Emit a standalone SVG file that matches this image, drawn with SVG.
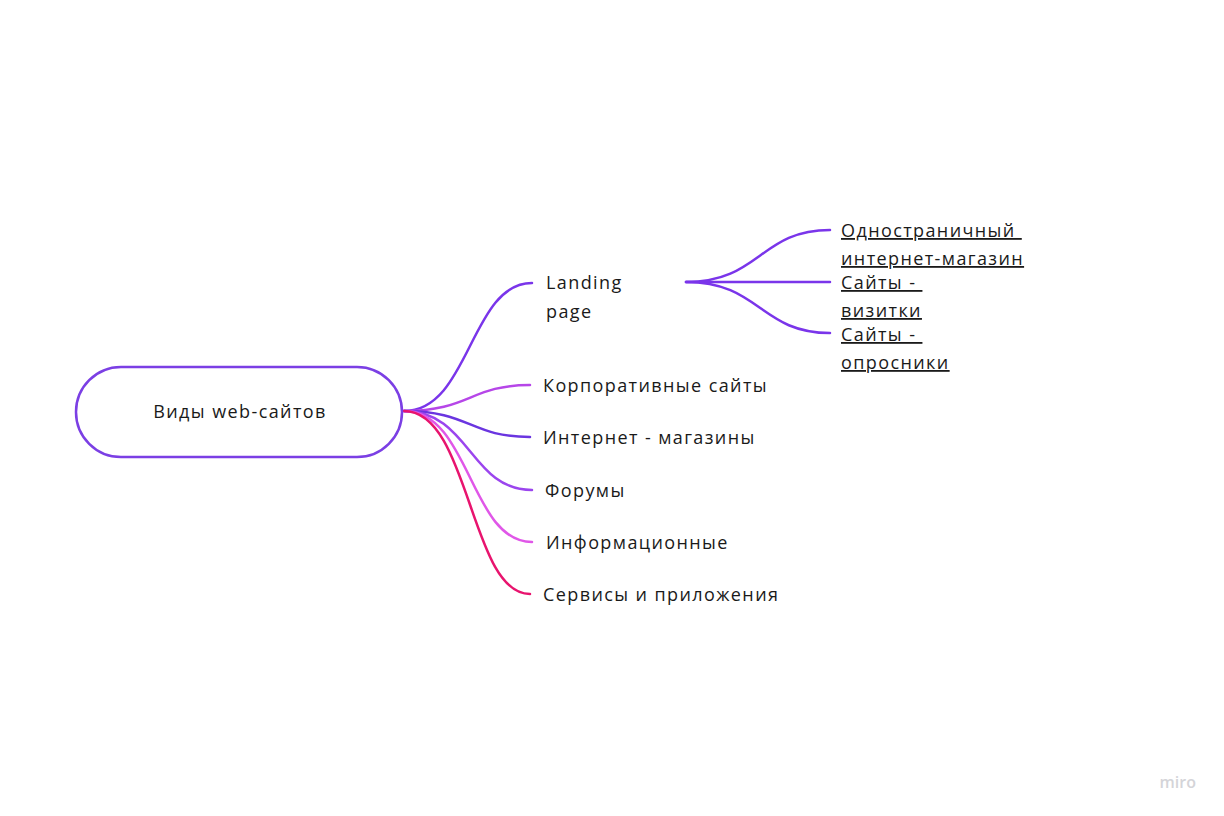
<svg xmlns="http://www.w3.org/2000/svg" width="1224" height="816" viewBox="0 0 1224 816">
<style>
.t{font-family:"Open Sans","Noto Sans",sans-serif;font-size:18px;fill:#1a1a1a;letter-spacing:1.4px;white-space:pre}
.u{text-decoration:underline}
.c{fill:none;stroke-width:2.5;stroke-linecap:round}
</style>
<rect width="1224" height="816" fill="#ffffff"/>
<g id="connectors">
<path class="c" stroke="#7a35ea" d="M404,411 C470,411 470,283 532,283"/>
<path class="c" stroke="#b646e8" d="M404,411 C470,411 470,385 530,385"/>
<path class="c" stroke="#6a35e0" d="M404,411 C470,411 470,437 530,437"/>
<path class="c" stroke="#9b45ee" d="M404,411 C470,411 470,490 532,490"/>
<path class="c" stroke="#e057e8" d="M404,411 C470,411 470,542 532,542"/>
<path class="c" stroke="#e8146e" d="M404,411 C470,411 470,594 530,594"/>
<path class="c" stroke="#7a35ea" d="M686,282 C760,282 760,230 830,230"/>
<path class="c" stroke="#7a35ea" d="M686,282 L830,282"/>
<path class="c" stroke="#7a35ea" d="M686,282 C760,282 760,333 830,333"/>
</g>
<g id="root">
<rect x="76" y="367" width="326" height="90" rx="45" fill="#ffffff" stroke="#7b3fe4" stroke-width="2.5"/>
<text class="t" x="240" y="418" text-anchor="middle">Виды web-сайтов</text>
</g>
<g id="landing"><text class="t" x="546" y="289">Landing</text><text class="t" x="546" y="318">page</text></g>
<g id="corp"><text class="t" x="543" y="392">Корпоративные сайты</text></g>
<g id="shops"><text class="t" x="543" y="444">Интернет - магазины</text></g>
<g id="forums"><text class="t" x="545" y="497">Форумы</text></g>
<g id="info"><text class="t" x="546" y="549">Информационные</text></g>
<g id="services"><text class="t" x="543" y="601">Сервисы и приложения</text></g>
<g id="one-page"><text class="t u" x="841" y="237">Одностраничный </text><text class="t u" x="841" y="265">интернет-магазин</text></g>
<g id="cards"><text class="t u" x="841" y="289">Сайты - </text><text class="t u" x="841" y="317">визитки</text></g>
<g id="polls"><text class="t u" x="841" y="341">Сайты - </text><text class="t u" x="841" y="369">опросники</text></g>
<text x="1196" y="788" text-anchor="end" font-family="Open Sans,sans-serif" font-size="16" font-weight="600" fill="#d4d4d8">miro</text>
</svg>
